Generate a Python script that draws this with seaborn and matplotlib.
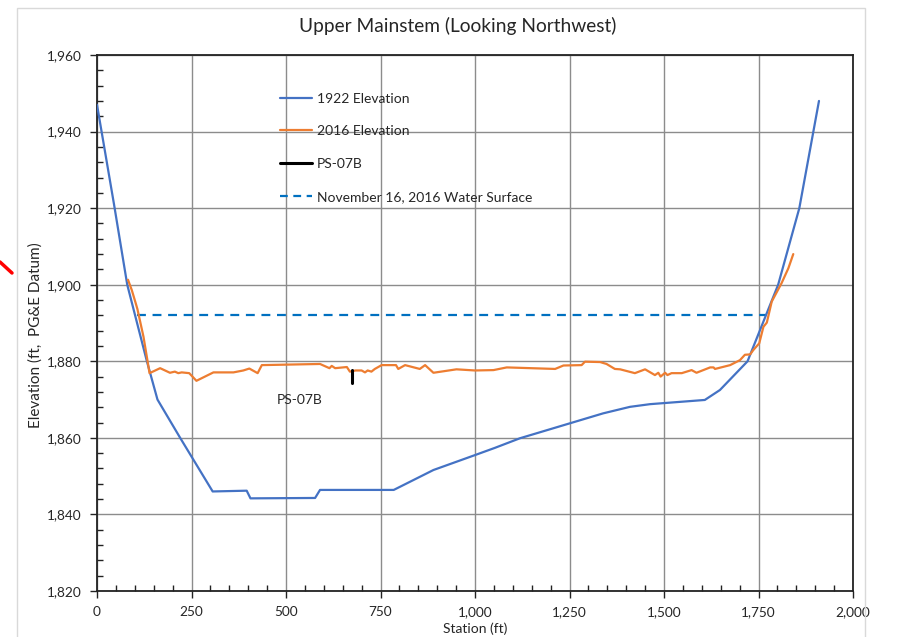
import matplotlib
matplotlib.use("Agg")
import matplotlib.pyplot as plt
import matplotlib.ticker as mticker
from matplotlib.lines import Line2D
from matplotlib.patches import Rectangle
import seaborn as sns
import pandas as pd

# ---- data ----
station_1922 = [0, 45, 80, 132, 160, 220, 306, 396, 406, 577, 590, 785, 890, 1000, 1053,
                1119, 1251, 1339, 1410, 1463, 1608, 1648, 1721, 1802, 1858, 1910]
elev_1922 = [1947, 1921, 1900, 1880, 1870, 1860, 1846, 1846.2, 1844.2, 1844.3, 1846.4, 1846.4,
             1851.6, 1855.5, 1857.4, 1859.9, 1863.8, 1866.4, 1868.1, 1868.8, 1869.9, 1872.5,
             1880, 1900, 1920, 1948]

station_2016 = [82, 92, 102, 107, 123, 139, 167, 193, 206, 215, 224, 244, 263, 308, 361, 387,
                403, 425, 436, 590, 599, 615, 621, 630, 661, 669, 684, 700, 709, 716, 726,
                735, 753, 766, 791, 797, 815, 854, 868, 890, 951, 1000, 1049, 1084, 1212,
                1234, 1282, 1291, 1331, 1348, 1370, 1384, 1423, 1450, 1476, 1485, 1491,
                1503, 1509, 1520, 1547, 1573, 1586, 1622, 1631, 1635, 1675, 1701, 1714,
                1728, 1736, 1752, 1763, 1772, 1785, 1811, 1829, 1842]
elev_2016 = [1901.3, 1898.6, 1895.3, 1893.6, 1886.4, 1876.9, 1878.2, 1877.0, 1877.3, 1876.9,
             1877.1, 1876.9, 1874.9, 1877.1, 1877.1, 1877.6, 1878.1, 1876.9, 1879.0, 1879.3,
             1878.9, 1878.2, 1878.8, 1878.2, 1878.5, 1877.3, 1877.6, 1877.6, 1877.1, 1877.6,
             1877.3, 1878.0, 1879.0, 1879.0, 1879.0, 1878.0, 1879.0, 1878.0, 1879.0, 1877.0,
             1877.9, 1877.6, 1877.7, 1878.4, 1878.0, 1878.9, 1879.0, 1879.9, 1879.8, 1879.3,
             1878.0, 1877.9, 1876.9, 1877.9, 1876.4, 1877.0, 1876.0, 1877.0, 1876.4, 1876.9,
             1876.9, 1877.7, 1877.0, 1878.4, 1878.4, 1878.0, 1879.0, 1880.3, 1881.7, 1881.8,
             1882.9, 1884.7, 1889.0, 1890.1, 1895.6, 1900.4, 1904.3, 1908.0]

ps07b_station = [675, 675]
ps07b_elev = [1877.7, 1874.3]

water_station = [105, 1770]
water_elev = [1892, 1892]

series_labels = ["1922 Elevation", "2016 Elevation", "PS-07B", "November 16, 2016 Water Surface"]
title = "Upper Mainstem (Looking Northwest)"
x_label = "Station (ft)"
y_label = "Elevation (ft,  PG&E Datum)"
annotation_text = "PS-07B"

# ---- style ----
sns.set_style("white")
plt.rcParams["font.family"] = ["Lato", "DejaVu Sans"]

fig = plt.figure(figsize=(9, 6.37), dpi=100)
ax = fig.add_axes([97 / 900, 46 / 637, 756 / 900, 536 / 637])

blue = "#4472C4"
orange = "#ED7D31"
dash_blue = "#0070C0"

df1922 = pd.DataFrame({"x": station_1922, "y": elev_1922})
df2016 = pd.DataFrame({"x": station_2016, "y": elev_2016})
dfps = pd.DataFrame({"x": ps07b_station, "y": ps07b_elev})
dfw = pd.DataFrame({"x": water_station, "y": water_elev})

common = dict(x="x", y="y", sort=False, estimator=None, ax=ax)
sns.lineplot(data=df1922, color=blue, lw=1.6, label=series_labels[0], zorder=3, **common)
sns.lineplot(data=df2016, color=orange, lw=1.6, label=series_labels[1], zorder=4, **common)
sns.lineplot(data=dfps, color="black", lw=2.2, label=series_labels[2], zorder=5, **common)
sns.lineplot(data=dfw, color=dash_blue, lw=1.6, label=series_labels[3], zorder=2, **common)
ax.lines[-1].set_dashes([4, 3])

ax.set_xlim(0, 2000)
ax.set_ylim(1820, 1960)
ax.xaxis.set_major_locator(mticker.MultipleLocator(250))
ax.xaxis.set_minor_locator(mticker.MultipleLocator(50))
ax.yaxis.set_major_locator(mticker.MultipleLocator(20))
ax.yaxis.set_minor_locator(mticker.MultipleLocator(4))
fmt = mticker.FuncFormatter(lambda v, p: f"{v:,.0f}")
ax.xaxis.set_major_formatter(fmt)
ax.yaxis.set_major_formatter(fmt)

ax.grid(True, which="major", color="#8c8c8c", lw=1.0)
ax.set_axisbelow(True)
for s in ax.spines.values():
    s.set_color("#222222")
    s.set_linewidth(1.3)

ax.tick_params(which="major", direction="out", length=5, width=1, color="#222222",
               labelsize=9.8, pad=6, bottom=True, left=True)
ax.tick_params(which="minor", direction="in", length=4, width=1, color="#222222",
               bottom=True, left=True)

ax.set_xlabel(x_label, fontsize=10, labelpad=3)
ax.set_ylabel(y_label, fontsize=11, va="center")
ax.yaxis.set_label_coords(-0.081, 0.478)

ax.text(535, 1870, annotation_text, fontsize=10, ha="center", va="center")

leg = ax.legend(loc="upper left", bbox_to_anchor=(0.242, 0.930), frameon=False,
                fontsize=10, handlelength=2.3, handletextpad=0.35, labelspacing=1.5,
                borderpad=0, borderaxespad=0)
leg.get_lines()[3].set_dashes([3.5, 2.5])

fig.text(458 / 900, 1 - 26 / 637, title, fontsize=13.8, ha="center", va="center")

# chart-area border and screenshot mark
fig.patches.append(Rectangle((17 / 900, -0.01), (865 - 17) / 900, 1 - 8 / 637 + 0.01,
                             transform=fig.transFigure, fill=False, ec="#d9d9d9", lw=1))
fig.lines.append(Line2D([0, 12 / 900], [1 - 262 / 637, 1 - 273 / 637],
                        transform=fig.transFigure, color="red", lw=2.5))

fig.savefig("out.png", dpi=100)
